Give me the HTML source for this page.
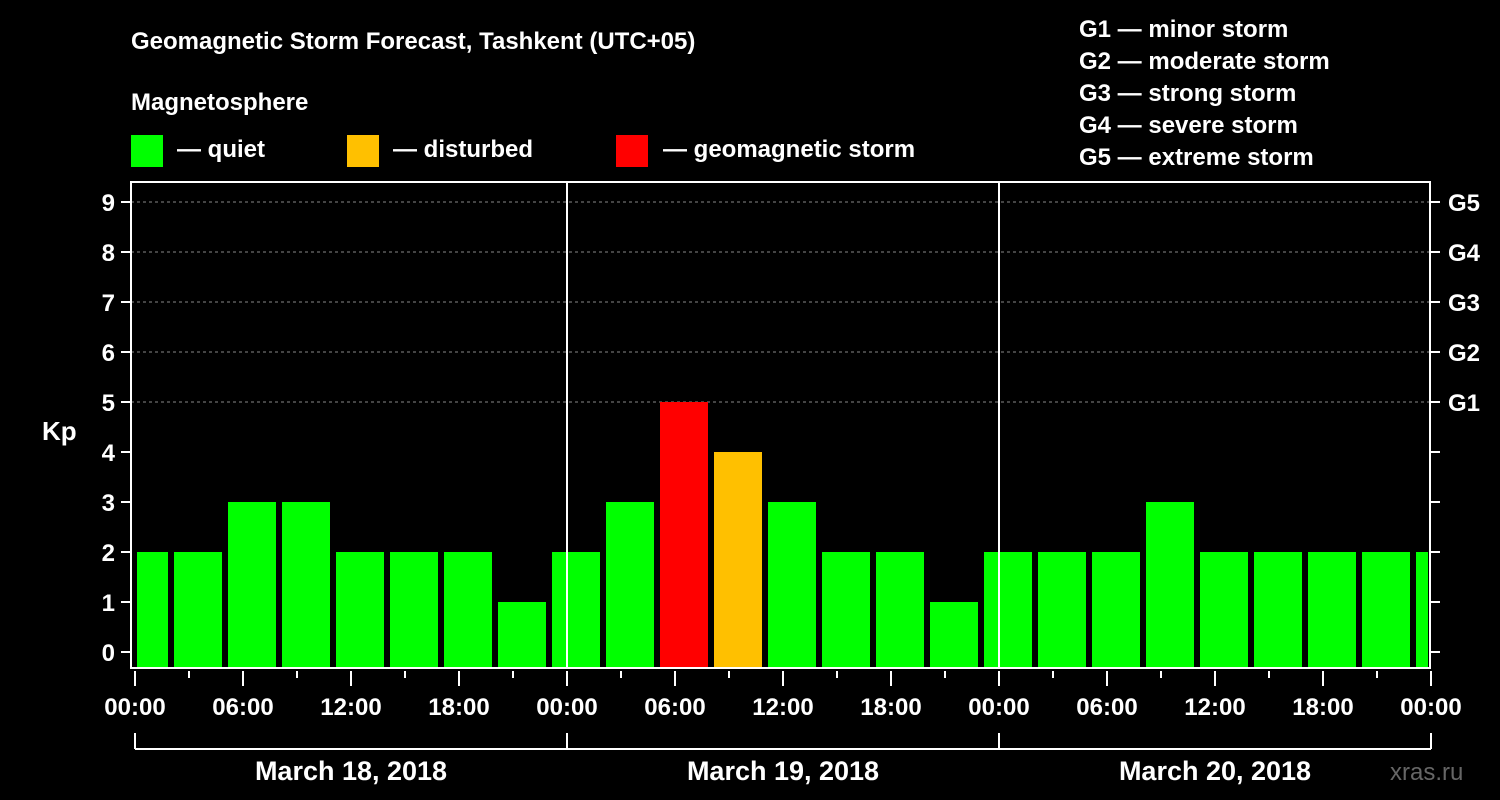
<!DOCTYPE html>
<html><head><meta charset="utf-8"><style>
body{margin:0;background:#000;}
svg{display:block;font-family:"Liberation Sans",Arial,sans-serif;font-weight:bold;}
</style></head><body>
<svg id="chart" width="1500" height="800" viewBox="0 0 1500 800">
<rect width="1500" height="800" fill="#000"/>
<text x="131" y="49" fill="#fff" font-size="24">Geomagnetic Storm Forecast, Tashkent (UTC+05)</text>
<text x="131" y="110" fill="#fff" font-size="24">Magnetosphere</text>
<g><rect x="131" y="135" width="32" height="32" fill="#00ff00"/><text x="177" y="157" fill="#fff" font-size="24">— quiet</text></g>
<g><rect x="347" y="135" width="32" height="32" fill="#ffc000"/><text x="393" y="157" fill="#fff" font-size="24">— disturbed</text></g>
<g><rect x="616" y="135" width="32" height="32" fill="#ff0000"/><text x="663" y="157" fill="#fff" font-size="24">— geomagnetic storm</text></g>
<g fill="#fff" font-size="24">
<text x="1079" y="37">G1 — minor storm</text>
<text x="1079" y="69">G2 — moderate storm</text>
<text x="1079" y="101">G3 — strong storm</text>
<text x="1079" y="133">G4 — severe storm</text>
<text x="1079" y="165">G5 — extreme storm</text>
</g>
<text x="42" y="440" fill="#fff" font-size="26">Kp</text>
<text x="1390" y="780" fill="#666" font-size="24" font-weight="normal">xras.ru</text>
<g id="plot"></g>
</svg>
<script>
const kpValues=[2,2,3,3,2,2,2,1, 2,3,5,4,3,2,2,1, 2,2,2,3,2,2,2,2,2];
const barHours=[0.5,3.5,6.5,9.5,12.5,15.5,18.5,21.5,24.5,27.5,30.5,33.5,36.5,39.5,42.5,45.5,48.5,51.5,54.5,57.5,60.5,63.5,66.5,69.5,72.5];
const yTicks=[0,1,2,3,4,5,6,7,8,9];
const gLabels=["G1","G2","G3","G4","G5"];
const xTickLabels=["00:00","06:00","12:00","18:00","00:00","06:00","12:00","18:00","00:00","06:00","12:00","18:00","00:00"];
const dayLabels=["March 18, 2018","March 19, 2018","March 20, 2018"];
const NS="http://www.w3.org/2000/svg";
const L=131,R=1430,T=182,B=668;
const x=h=>135+18*h;
const y=v=>652-50*v;
const g=document.getElementById('plot');
function mk(t,a){const e=document.createElementNS(NS,t);for(const k in a)e.setAttribute(k,a[k]);g.appendChild(e);return e;}
// grid
for(let v=5;v<=9;v++){const e=mk('line',{x1:L,x2:R,y1:y(v),y2:y(v),stroke:'#888','stroke-dasharray':'3,3','stroke-width':1});

}
// bars
kpValues.forEach((v,i)=>{
 let x0=x(barHours[i])-24,x1=x(barHours[i])+24;
 x0=Math.max(x0,L+6);x1=Math.min(x1,R-2);
 const c=v>=5?'#ff0000':(v>=4?'#ffc000':'#00ff00');
 const e=mk('rect',{x:x0,y:y(v),width:x1-x0,height:B-y(v),fill:c});
 
 
});
// day separators
[24,48].forEach(h=>{const e=mk('line',{x1:x(h),x2:x(h),y1:T,y2:B,stroke:'#fff','stroke-width':2});

});
// frame
const fr=mk('rect',{x:L,y:T,width:R-L,height:B-T,fill:'none',stroke:'#fff','stroke-width':2});


// y ticks
yTicks.forEach(v=>{
 mk('line',{x1:L-10,x2:L,y1:y(v),y2:y(v),stroke:'#fff','stroke-width':2});
 mk('line',{x1:R,x2:R+10,y1:y(v),y2:y(v),stroke:'#fff','stroke-width':2});
 const t=mk('text',{x:L-16,y:y(v)+9,fill:'#fff','font-size':24,'text-anchor':'end'});t.textContent=v;
 
 
});
gLabels.forEach((s,i)=>{const t=mk('text',{x:1448,y:y(5+i)+9,fill:'#fff','font-size':24});t.textContent=s;
 
 });
// x ticks
for(let h=0;h<=72;h+=3){const major=h%6===0;
 mk('line',{x1:x(h),x2:x(h),y1:B+3,y2:B+(major?18:10),stroke:'#fff','stroke-width':2});}
xTickLabels.forEach((s,i)=>{const t=mk('text',{x:x(i*6),y:715,fill:'#fff','font-size':24,'text-anchor':'middle'});t.textContent=s;
 
 });
// date bracket
mk('line',{x1:x(0),x2:x(72),y1:749,y2:749,stroke:'#fff','stroke-width':2});
[0,24,48,72].forEach(h=>mk('line',{x1:x(h),x2:x(h),y1:733,y2:749,stroke:'#fff','stroke-width':2}));
dayLabels.forEach((s,i)=>{const t=mk('text',{x:x(i*24+12),y:780,fill:'#fff','font-size':27,'text-anchor':'middle'});t.textContent=s;
 
 });
</script>
</body></html>
